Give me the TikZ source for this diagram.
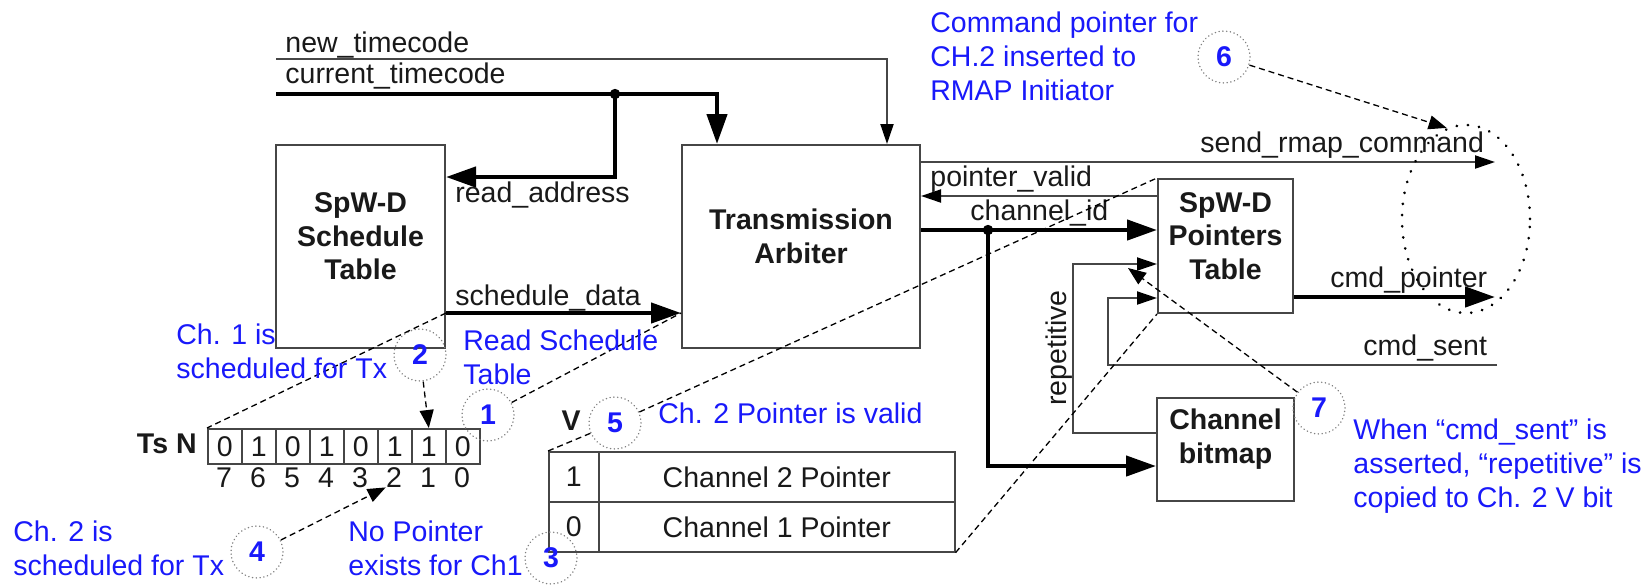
\documentclass[tikz,border=0pt]{standalone}
\usepackage{fontspec}
\setmainfont{Liberation Sans}
\usetikzlibrary{arrows.meta,fit,shapes.geometric}
\definecolor{noteblue}{RGB}{25,25,250}
\definecolor{wire}{RGB}{70,70,70}
\definecolor{ink}{RGB}{25,25,25}
\begin{document}
\begin{tikzpicture}[x=0.5pt,y=-0.5pt,
  every node/.style={font=\fontsize{14.25pt}{17pt}\selectfont, text=ink, inner sep=0pt},
  box/.style={draw=wire, line width=1pt, fill=white, align=center,
    font=\fontsize{14.25pt}{16.8pt}\selectfont\bfseries},
  wireline/.style={draw=wire, line width=1pt},
  bus/.style={draw=black, line width=2.2pt},
  thinarr/.style={-{Triangle[length=10pt,width=6.5pt,color=black]}},
  busarr/.style={-{Triangle[length=15pt,width=10pt]}},
  note/.style={text=noteblue, anchor=base west, align=left},
  sig/.style={anchor=base west},
  badge/.style={circle, draw=gray, line width=0.75pt, dash pattern=on 0.1pt off 1.8pt,
    line cap=round, minimum size=26pt, text=noteblue,
    font=\fontsize{14.25pt}{16pt}\selectfont\bfseries},
  leader/.style={draw=black, line width=0.65pt, dash pattern=on 3pt off 2pt},
  leadarr/.style={leader, -{Triangle[length=9pt,width=7pt]}},
  bitcell/.style={draw=wire, line width=0.8pt, minimum width=17pt, minimum height=17.5pt,
    anchor=north west},
  vcell/.style={draw=wire, line width=0.8pt, minimum height=25pt, anchor=north west},
]
\useasboundingbox (0,0) rectangle (1652,585);

% ---------- functional blocks ----------
\node[box, fit={(276,145) (445,348)}] (sched) {SpW-D\\Schedule\\Table};
\node[box, fit={(682,145) (920,348)}] (arb) {Transmission\\Arbiter};
\node[box, fit={(1158,179) (1293,313)}] (ptab) {SpW-D\\Pointers\\Table};
\node[box, fit={(1157,398) (1294,501)}] (bmap) {Channel\\bitmap};

% ---------- signal levels ----------
\coordinate (ntc) at (276,59);
\coordinate (ntx) at (887,59);
\coordinate (ctc) at (276,94);
\coordinate (ctx) at (717,94);
\coordinate (jt)  at (615,94);
\coordinate (rab) at (615,177);
\coordinate (ySD) at (0,313);
\coordinate (ySR) at (0,162);
\coordinate (yPV) at (0,196);
\coordinate (yCI) at (0,230);
\coordinate (yRP) at (0,264);
\coordinate (yCS) at (0,298);
\coordinate (yCP) at (0,297);
\coordinate (yCL) at (0,365);
\coordinate (yBM) at (0,466);
\coordinate (yRB) at (0,433);
\coordinate (xJ2) at (988,0);
\coordinate (xRep) at (1073,0);
\coordinate (xCs) at (1108,0);
\coordinate (xEnd) at (1495,0);
\coordinate (xCe) at (1497,0);

% ---------- connectors ----------
\draw[wireline, thinarr] (ntc) -- (ntx) -- (ntx |- arb.north);
\draw[bus, busarr] (ctc) -- (ctx) -- (ctx |- arb.north);
\draw[bus, busarr] (jt) -- (rab) -- (rab -| sched.east);
\fill (jt) circle[radius=2.6pt];
\draw[bus, busarr] (sched.east |- ySD) -- (arb.west |- ySD);
\draw[wireline, thinarr] (arb.east |- ySR) -- (xEnd |- ySR);
\draw[wireline, thinarr] (ptab.west |- yPV) -- (arb.east |- yPV);
\draw[bus, busarr] (arb.east |- yCI) -- (ptab.west |- yCI);
\coordinate (j2) at (xJ2 |- yCI);
\draw[bus, busarr] (j2) -- (xJ2 |- yBM) -- (bmap.west |- yBM);
\fill (j2) circle[radius=2.6pt];
\draw[wireline, thinarr] (bmap.west |- yRB) -- (xRep |- yRB) -- (xRep |- yRP) -- (ptab.west |- yRP);
\draw[wireline, thinarr] (xCe |- yCL) -- (xCs |- yCL) -- (xCs |- yCS) -- (ptab.west |- yCS);
\draw[bus, busarr] (ptab.east |- yCP) -- (xEnd |- yCP);

% ---------- signal names ----------
\node[sig] (lnt) at (285,52) {new\_timecode};
\node[sig] (lct) at (285,83) {current\_timecode};
\node[sig] (lra) at (455,202) {read\_address};
\node[sig] (lsd) at (455,305) {schedule\_data};
\node[sig] (lpv) at (930,186) {pointer\_valid};
\node[sig] (lci) at (970,220) {channel\_id};
\node[sig] (lsr) at (1200,152) {send\_rmap\_command};
\node[sig] (lcp) at (1330,287) {cmd\_pointer};
\node[sig] (lcs) at (1363,355) {cmd\_sent};
\node[rotate=90, anchor=base] (lrp) at (1066,348) {repetitive};

% ---------- time-slot bit array ----------
\node[anchor=base east, font=\fontsize{14.25pt}{17pt}\selectfont\bfseries] (tsn) at (197,453) {Ts N};
\foreach \b [count=\k from 0] in {0,1,0,1,0,1,1,0} {
  \pgfmathtruncatemacro\idx{7-\k}
  \node[bitcell] (b\idx) at ({207+34*\k},428) {\b};
  \node[anchor=base] (i\idx) at ({224+34*\k},487) {\idx};
}

% ---------- pointer table excerpt ----------
\node[anchor=base, font=\fontsize{14.25pt}{17pt}\selectfont\bfseries] (vhd) at (571,430) {V};
\node[vcell, minimum width=25pt] (v1) at (548,451) {1};
\node[vcell, minimum width=178pt] (p2) at (598,451) {Channel 2 Pointer};
\node[vcell, minimum width=25pt] (v0) at (548,501) {0};
\node[vcell, minimum width=178pt] (p1) at (598,501) {Channel 1 Pointer};

% ---------- RMAP initiator inputs ----------
\node[ellipse, draw=black, line width=1.4pt, dash pattern=on 0.1pt off 5.5pt, line cap=round,
  minimum width=64pt, minimum height=94pt] (sel) at (1466,219) {};

% ---------- numbered steps ----------
\node[badge] (c1) at (488,415) {1};
\node[badge] (c2) at (420,355) {2};
\node[badge] (c3) at (551,558) {3};
\node[badge] (c4) at (257,552) {4};
\node[badge] (c5) at (615,423) {5};
\node[badge] (c6) at (1224,57) {6};
\node[badge] (c7) at (1319,408) {7};

\coordinate (reptip) at (1128,268);
\draw[leader] (sched.east |- ySD) -- (b7.north west);
\draw[leader] (c1) -- (arb.west |- ySD);
\draw[leadarr] (c2) -- (b1.north);
\draw[leadarr] (c4) -- (i2.south west);
\draw[leader] (v1.north west) -- (c5);
\draw[leader] (c5) -- (ptab.north west);
\draw[leader] (p1.south east) -- (ptab.south west);
\draw[leadarr] (c6) -- (sel.102);
\draw[leadarr] (c7) -- (reptip);

% ---------- annotations (anchored at the baseline of the last line) ----------
\node[note] (n6) at (930,100) {Command pointer for\\CH.2 inserted to\\RMAP Initiator};
\node[note] (n2) at (176,378) {Ch. 1 is\\scheduled for Tx};
\node[note] (n1) at (463,384) {Read Schedule\\Table};
\node[note] (n4) at (13,575) {Ch. 2 is\\scheduled for Tx};
\node[note] (n3) at (348,575) {No Pointer\\exists for Ch1};
\node[note] (n5) at (658,423) {Ch. 2 Pointer is valid};
\node[note] (n7) at (1353,507) {When “cmd\_sent” is\\asserted, “repetitive” is\\copied to Ch. 2 V bit};
\end{tikzpicture}
\end{document}
